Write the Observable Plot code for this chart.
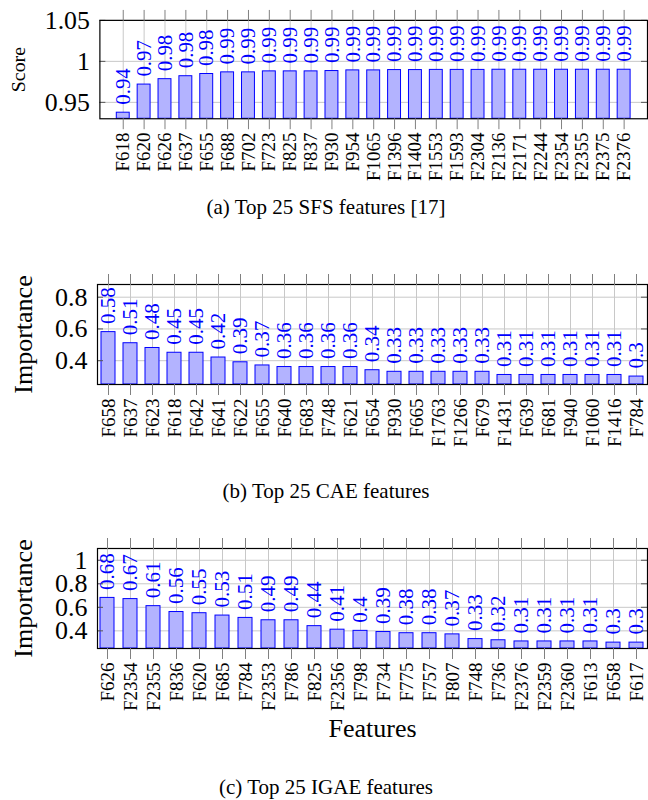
<!DOCTYPE html>
<html><head><meta charset="utf-8">
<script src="https://cdn.jsdelivr.net/npm/d3@7"></script>
<script src="https://cdn.jsdelivr.net/npm/@observablehq/plot@0.6"></script>
<style>
html,body{margin:0;padding:0;background:#fff;overflow:hidden;}
#root{position:relative;width:648px;height:800px;overflow:hidden;font-family:"Liberation Serif",serif;}
.panel{position:absolute;left:0;}
.cap{position:absolute;left:0;width:652px;text-align:center;font-size:21px;line-height:24px;color:#000;font-family:"Liberation Serif",serif;}
</style></head><body><div id="root"></div>
<script>
// (a) SFS
const sfsFeatures = ["F618","F620","F626","F637","F655","F688","F702","F723","F825","F837","F930","F954","F1065","F1396","F1404","F1553","F1593","F2304","F2136","F2171","F2244","F2354","F2355","F2375","F2376"];
const sfsScores = [0.9374,0.9717,0.9783,0.9819,0.9846,0.9866,0.9866,0.9878,0.9878,0.9878,0.9882,0.989,0.989,0.9894,0.9894,0.9896,0.9896,0.9896,0.9898,0.9898,0.9898,0.9898,0.9898,0.9898,0.9898];
const sfsTicks = [0.95, 1, 1.05];
// (b) CAE
const caeFeatures = ["F658","F637","F623","F618","F642","F641","F622","F655","F640","F683","F748","F621","F654","F930","F665","F1763","F1266","F679","F1431","F639","F681","F940","F1060","F1416","F784"];
const caeImportance = [0.58,0.51,0.48,0.45,0.45,0.42,0.39,0.37,0.36,0.36,0.36,0.36,0.34,0.33,0.33,0.33,0.33,0.33,0.31,0.31,0.31,0.31,0.31,0.31,0.3];
const caeTicks = [0.4, 0.6, 0.8];
// (c) IGAE
const igaeFeatures = ["F626","F2354","F2355","F836","F620","F685","F784","F2353","F786","F825","F2356","F798","F734","F775","F757","F807","F748","F736","F2376","F2359","F2360","F613","F658","F617"];
const igaeImportance = [0.68,0.67,0.61,0.56,0.55,0.53,0.51,0.49,0.49,0.44,0.41,0.4,0.39,0.38,0.38,0.37,0.33,0.32,0.31,0.31,0.31,0.31,0.3,0.3];
const igaeTicks = [0.4, 0.6, 0.8, 1];

const captions = ["(a) Top 25 SFS features [17]", "(b) Top 25 CAE features", "(c) Top 25 IGAE features"];

const root = document.getElementById("root");
const fmt = d3.format(".2~f");
const FONT = '"Liberation Serif", serif';

function makePanel(o) {
  const data = o.names.map((name, i) => ({name, v: o.values[i]}));
  const plotW = o.width - o.marginLeft - o.marginRight;
  const marks = [
    Plot.gridX({stroke: "#c8c8c8", strokeOpacity: 1}),
    Plot.gridY(o.ticks, {stroke: "#c8c8c8", strokeOpacity: 1}),
    Plot.barY(data, {x: "name", y1: o.yDomain[0], y2: "v", fill: "#b3b3ff", stroke: "#0000ff", strokeWidth: 1}),
    Plot.tickY(o.ticks, {y: d => d, insetRight: plotW - 6, stroke: "#555"}),
    Plot.tickY(o.ticks, {y: d => d, insetLeft: plotW - 6, stroke: "#555"}),
    Plot.frame({stroke: "black", strokeWidth: 1.2}),
    Plot.axisX({anchor: "top", tickSize: 11, tickFormat: () => "", stroke: "#808080", label: null}),
    Plot.axisX({anchor: "bottom", tickSize: 11, tickFormat: () => "", stroke: "#808080", label: null}),
    Plot.axisX({anchor: "bottom", tickSize: 0, tickPadding: 14, tickRotate: -90, fontSize: 19, fill: "black", label: null}),
    Plot.axisY({ticks: o.ticks, anchor: "left", tickSize: 0, tickPadding: 10, fontSize: 26, fill: "black", tickFormat: d => String(d), label: null}),
    Plot.text(data, {x: "name", y: "v", text: d => fmt(d.v), rotate: -90, textAnchor: "start", lineAnchor: "middle", dy: -8, fill: "#0000ff", fontSize: 21}),
    Plot.text([o.yLabel], {frameAnchor: "left", text: d => d, rotate: -90, textAnchor: "middle", lineAnchor: "middle", dx: -o.labelDx, fontSize: o.labelSize, fill: "black"})
  ];
  if (o.xLabel) {
    marks.push(Plot.text([o.xLabel], {frameAnchor: "bottom", text: d => d, textAnchor: "middle", lineAnchor: "middle", dy: o.xLabelDy, fontSize: 26, fill: "black"}));
  }
  const svg = Plot.plot({
    width: o.width, height: o.height,
    marginLeft: o.marginLeft, marginRight: o.marginRight, marginTop: 20, marginBottom: o.height - 20 - o.plotH,
    style: {fontFamily: FONT, background: "transparent", overflow: "visible"},
    x: {type: "band", domain: o.names, paddingInner: o.pi, paddingOuter: o.po},
    y: {domain: o.yDomain},
    marks
  });
  svg.classList.add("panel");
  svg.style.top = o.top + "px";
  root.appendChild(svg);
}

function caption(text, cy) {
  const d = document.createElement("div");
  d.className = "cap";
  d.textContent = text;
  d.style.top = (cy - 12) + "px";
  root.appendChild(d);
}

makePanel({names: sfsFeatures, values: sfsScores, ticks: sfsTicks, yDomain: [0.93, 1.05], yLabel: "Score", labelDx: 82, labelSize: 20,
  top: 0, width: 652, height: 200, plotH: 99, marginLeft: 100, marginRight: 1, pi: 0.364, po: 0.21});
caption(captions[0], 207);

makePanel({names: caeFeatures, values: caeImportance, ticks: caeTicks, yDomain: [0.25, 0.88], yLabel: "Importance", labelDx: 74, labelSize: 26,
  top: 264, width: 648, height: 200, plotH: 100, marginLeft: 97, marginRight: 1, pi: 0.368, po: 0.1});
caption(captions[1], 491);

makePanel({names: igaeFeatures, values: igaeImportance, ticks: igaeTicks, yDomain: [0.25, 1.1], yLabel: "Importance", labelDx: 74, labelSize: 26,
  xLabel: "Features", xLabelDy: 80,
  top: 528, width: 648, height: 220, plotH: 100, marginLeft: 97, marginRight: 1, pi: 0.39, po: 0.135});
caption(captions[2], 787);
</script>
</body></html>
